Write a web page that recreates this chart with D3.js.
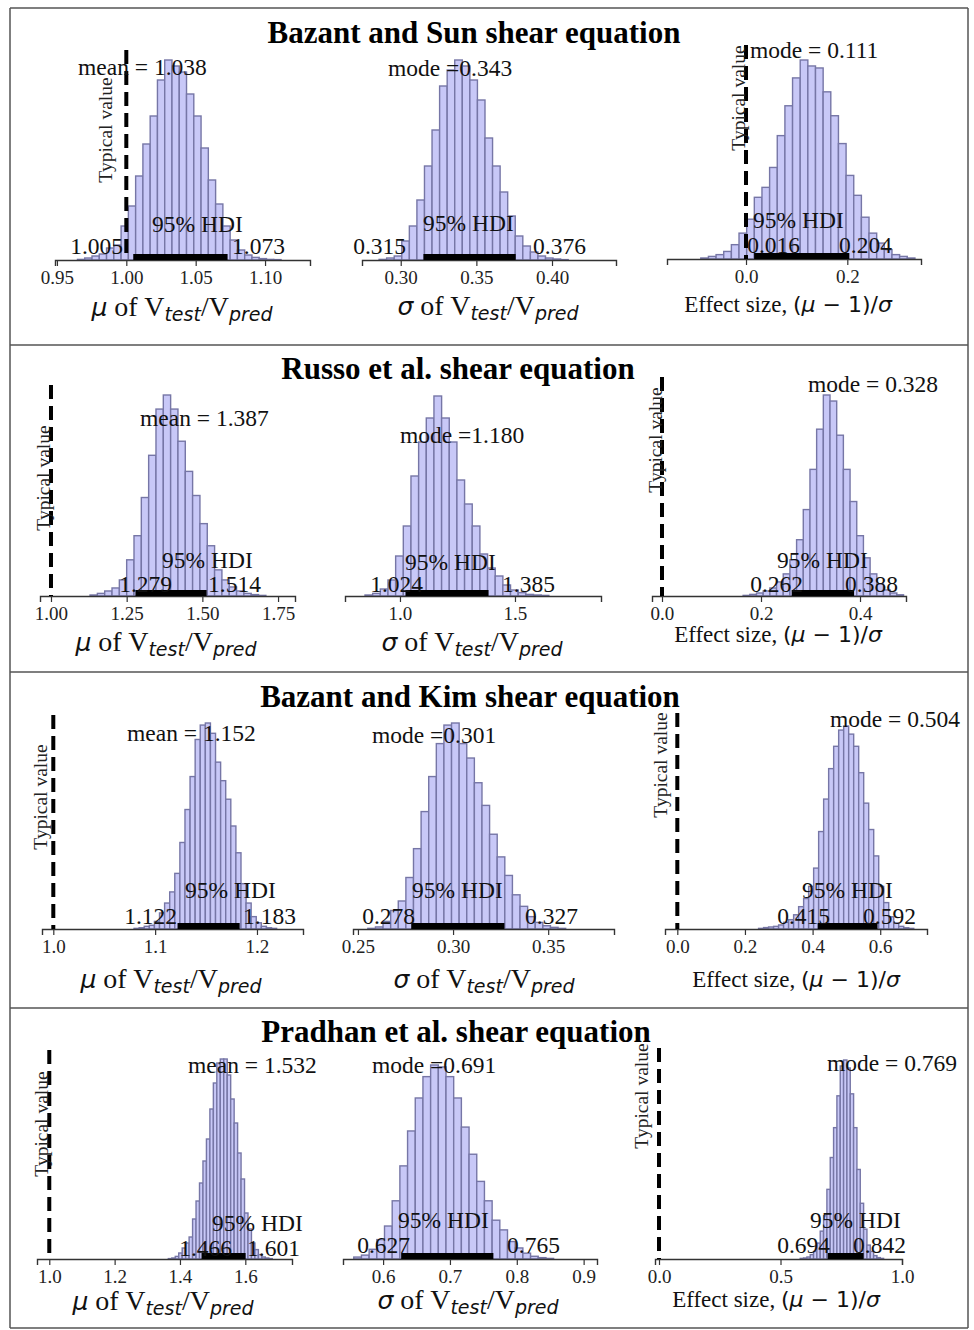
<!DOCTYPE html>
<html>
<head>
<meta charset="utf-8">
<script src="https://cdn.jsdelivr.net/npm/d3@7"></script>
<style>
  body { margin: 0; background: #fff; }
  .serif { font-family: "Liberation Serif", "Times New Roman", serif; }
  .math { font-family: "DejaVu Sans", sans-serif; }
  .it { font-style: italic; }
</style>
</head>
<body>
<div id="graph"></div>
<script>
// ---- data ----
const titles = ['Bazant and Sun shear equation', 'Russo et al. shear equation',
                'Bazant and Kim shear equation', 'Pradhan et al. shear equation'];

// one entry per histogram, row by row: mu, sigma, effect size
const kinds = ['mu', 'sigma', 'effect', 'mu', 'sigma', 'effect', 'mu', 'sigma', 'effect', 'mu', 'sigma', 'effect'];
const statLabels = ['mean = 1.038', 'mode =0.343', 'mode = 0.111',
                    'mean = 1.387', 'mode =1.180', 'mode = 0.328',
                    'mean = 1.152', 'mode =0.301', 'mode = 0.504',
                    'mean = 1.532', 'mode =0.691', 'mode = 0.769'];
const hdiLow  = [1.005, 0.315, 0.016, 1.279, 1.024, 0.262, 1.122, 0.278, 0.415, 1.466, 0.627, 0.694];
const hdiHigh = [1.073, 0.376, 0.204, 1.514, 1.385, 0.388, 1.183, 0.327, 0.592, 1.601, 0.765, 0.842];
const typicalValue = [1, null, 0, 1, null, 0, 1, null, 0, 1, null, 0];

const xExtent = [[0.9486, 1.1324], [0.2744, 0.4423], [-0.156, 0.3455],
                 [0.9637, 1.806], [0.761, 1.874], [-0.0202, 0.4929],
                 [0.9889, 1.2452], [0.2474, 0.3846], [-0.0364, 0.7383],
                 [0.9624, 1.7429], [0.54, 0.92], [-0.0165, 1.0]];
const tickValues = [[0.95, 1.00, 1.05, 1.10], [0.30, 0.35, 0.40], [0.0, 0.2],
                    [1.00, 1.25, 1.50, 1.75], [1.0, 1.5], [0.0, 0.2, 0.4],
                    [1.0, 1.1, 1.2], [0.25, 0.30, 0.35], [0.0, 0.2, 0.4, 0.6],
                    [1.0, 1.2, 1.4, 1.6], [0.6, 0.7, 0.8, 0.9], [0.0, 0.5, 1.0]];
const tickLabels = [['0.95', '1.00', '1.05', '1.10'], ['0.30', '0.35', '0.40'], ['0.0', '0.2'],
                    ['1.00', '1.25', '1.50', '1.75'], ['1.0', '1.5'], ['0.0', '0.2', '0.4'],
                    ['1.0', '1.1', '1.2'], ['0.25', '0.30', '0.35'], ['0.0', '0.2', '0.4', '0.6'],
                    ['1.0', '1.2', '1.4', '1.6'], ['0.6', '0.7', '0.8', '0.9'], ['0.0', '0.5', '1.0']];

// histogram bins: first left edge, bin width, relative heights (tallest = 100)
const binStart = [0.9648, 0.2857, -0.0893, 1.129, 0.848, 0.1639, 1.0793, 0.2552, 0.2403, 1.3644, 0.5561, 0.5811];
const binWidth = [0.00524, 0.005, 0.0151, 0.0242, 0.0333, 0.0135, 0.005, 0.004, 0.0148, 0.0106, 0.0115, 0.01373];
const counts = [
  [0.3, 1, 2, 3, 6, 7.5, 17, 27, 42, 58, 72, 90, 100, 97, 94, 83, 72, 56, 40, 28, 17, 10, 5, 2.5, 1.3, 0.7, 0.3, 0.2],
  [0.3, 1, 2, 9.5, 17, 30, 47, 65, 87, 95, 100, 97, 90, 80, 61, 47, 34, 22, 12, 7, 4, 2, 1, 0.5, 0.2],
  [0.5, 1.3, 2.2, 3.8, 7.2, 13, 20, 31, 36, 46, 62, 77, 91, 100, 97, 96, 84, 72, 58, 42, 32, 21, 13, 8, 4.7, 2.2, 1.3, 0.5],
  [0.5, 1.3, 2.5, 4, 8, 18, 30, 49, 70, 93, 100, 93, 77, 62, 50, 36, 25, 13, 8, 4.5, 2.5, 1.3, 0.7, 0.3],
  [0.5, 1.3, 3.5, 8, 20, 35, 60, 77, 89, 100, 89, 77, 58, 46, 35, 21, 14, 10, 5.5, 3, 1.7, 0.8, 0.5, 0.3],
  [0.3, 0.8, 1.5, 2.5, 4, 7, 11, 18, 28, 43, 63, 83, 100, 97, 80, 63, 47, 30, 19, 11, 6, 3, 1.5, 0.6],
  [0.3, 0.6, 1.3, 1.8, 3.7, 7.8, 12.6, 18, 27, 42, 58, 74, 92, 99, 100, 95, 81, 72, 63, 50, 37, 22, 12.6, 6, 3, 1.3, 0.6, 0.3],
  [0.3, 1, 3.7, 9, 13.6, 25, 39, 57, 74, 90, 99, 100, 90, 83, 71, 60, 46, 35, 26, 16.6, 11, 6, 3.2, 1.6, 0.8, 0.3],
  [0.3, 0.7, 1, 1.3, 2, 3.3, 4.6, 7, 11, 15, 21, 30, 48, 64, 79, 90, 98, 100, 96, 90, 77, 62, 49, 36, 21, 13, 6, 3, 1.3, 0.6, 0.3],
  [0.2, 0.5, 1.3, 3, 5.5, 8, 11, 20, 29, 38, 49, 60, 75, 88, 98, 100, 100, 92, 80, 68, 53, 40, 23, 15, 8, 4.7, 2.2, 1, 0.5, 0.2],
  [1, 2, 5, 10, 17, 30, 48, 66, 83, 94, 100, 99, 94, 83, 68, 54, 40, 30, 20, 15, 9, 5.7, 3, 1.4, 0.7, 0.3],
  [0.3, 0.5, 1, 2.2, 3.8, 8, 14, 21.7, 35, 51, 66, 82, 97, 100, 96, 83, 66, 45, 28, 15, 7, 3.8, 1.7, 0.7, 0.3]
];

// ---- layout (pixels) ----
const W = 974, H = 1330;
const rowLines = [8, 345, 672, 1008, 1328];
const titleX = [474, 458, 470, 456];
const titleY = [43, 379, 707, 1042];
const axisRange = [[55, 310], [362, 616], [667, 921], [40, 295], [345, 601], [652, 906],
                   [42, 303], [353, 614], [665, 927], [37, 292], [343, 597], [655, 902]];
const baseY = [260, 260, 259, 596, 596, 596, 929, 929, 929, 1259, 1259, 1259];
const peakY = [60, 60, 60, 395, 396, 395, 723, 723, 726, 1059, 1065, 1060];
const typTop = [50, null, 45, 385, null, 377, 715, null, 713, 1050, null, 1048];
const typText = [[112, 130], null, [745, 98], [50, 478], null, [662, 440],
                 [47, 797], null, [667, 765], [48, 1124], null, [648, 1096]];
const statPos = [[78, 75], [388, 76], [750, 58], [140, 426], [400, 443], [808, 392],
                 [127, 741], [372, 743], [830, 727], [188, 1073], [372, 1073], [827, 1071]];
const hdiPos = [[152, 232], [423, 231], [753, 228], [162, 568], [405, 570], [777, 568],
                [185, 898], [412, 898], [802, 898], [212, 1231], [398, 1228], [810, 1228]];
const loPos = [[123, 254], [406, 254], [800, 253], [172, 592], [423, 592], [803, 592],
               [177, 924], [415, 924], [830, 924], [232, 1256], [410, 1253], [830, 1253]];
const hiPos = [[232, 254], [533, 254], [839, 253], [208, 592], [502, 592], [845, 592],
               [243, 924], [525, 924], [863, 924], [247, 1256], [507, 1253], [853, 1253]];
const xLabelX = [182, 488, 788, 166, 472, 778, 171, 484, 796, 163, 468, 776];
const xLabelY = [316, 315, 312, 651, 651, 642, 988, 988, 987, 1310, 1309, 1307];

const svg = d3.select('#graph').append('svg')
  .attr('width', W).attr('height', H);

// panel frames
const frame = svg.append('g').attr('stroke', '#555').attr('stroke-width', 1.5);
rowLines.forEach(y => frame.append('line').attr('x1', 10).attr('x2', 968).attr('y1', y).attr('y2', y));
[10, 968].forEach(x => frame.append('line').attr('x1', x).attr('x2', x).attr('y1', 8).attr('y2', 1328));

// titles
titles.forEach((t, r) => {
  svg.append('text').attr('class', 'serif')
    .attr('x', titleX[r]).attr('y', titleY[r])
    .attr('text-anchor', 'middle')
    .attr('font-size', 31).attr('font-weight', 'bold')
    .text(t);
});

const fmt = d3.format('.3f');

function xLabel(i) {
  const t = svg.append('text')
    .attr('x', xLabelX[i]).attr('y', xLabelY[i])
    .attr('text-anchor', 'middle').attr('fill', '#111');
  if (kinds[i] === 'effect') {
    t.append('tspan').attr('class', 'serif').attr('font-size', 23).text('Effect size, ');
    t.append('tspan').attr('class', 'math').attr('font-size', 22).text('(');
    t.append('tspan').attr('class', 'math it').attr('font-size', 22).text('μ');
    t.append('tspan').attr('class', 'math').attr('font-size', 22).text(' − 1)/');
    t.append('tspan').attr('class', 'math it').attr('font-size', 22).text('σ');
  } else {
    t.append('tspan').attr('class', 'math it').attr('font-size', 25).text(kinds[i] === 'mu' ? 'μ' : 'σ');
    t.append('tspan').attr('class', 'serif').attr('font-size', 28).text(' of V');
    t.append('tspan').attr('class', 'math it').attr('font-size', 19).attr('dy', 5).text('test');
    t.append('tspan').attr('class', 'serif').attr('font-size', 28).attr('dy', -5).text('/V');
    t.append('tspan').attr('class', 'math it').attr('font-size', 19).attr('dy', 5).text('pred');
  }
}

counts.forEach((c, i) => {
  const x = d3.scaleLinear().domain(xExtent[i]).range(axisRange[i]);
  const y = d3.scaleLinear().domain([0, 100]).range([baseY[i], peakY[i]]);
  const bins = c.map((v, k) => ({ x0: binStart[i] + k * binWidth[i], x1: binStart[i] + (k + 1) * binWidth[i], v: v }));
  const g = svg.append('g');

  // bars
  g.selectAll('rect').data(bins).enter().append('rect')
    .attr('x', d => x(d.x0))
    .attr('width', d => x(d.x1) - x(d.x0))
    .attr('y', d => y(d.v))
    .attr('height', d => baseY[i] - y(d.v))
    .attr('fill', 'rgb(200,200,247)')
    .attr('stroke', 'rgb(118,118,166)')
    .attr('stroke-width', 1.4);

  // x axis
  const ax = g.append('g')
    .attr('transform', 'translate(0,' + baseY[i] + ')')
    .call(d3.axisBottom(x).tickValues(tickValues[i])
      .tickFormat((d, k) => tickLabels[i][k])
      .tickSizeOuter(0).tickSize(6).tickPadding(5));
  ax.select('.domain').attr('stroke', '#333').attr('stroke-width', 1.4);
  ax.selectAll('.tick line').attr('stroke', '#333').attr('stroke-width', 1.2);
  ax.selectAll('.tick text').attr('class', 'serif').attr('font-size', 19).attr('fill', '#222');

  // HDI bar
  g.append('rect')
    .attr('x', x(hdiLow[i])).attr('width', x(hdiHigh[i]) - x(hdiLow[i]))
    .attr('y', baseY[i] - 6).attr('height', 6)
    .attr('fill', '#000');

  // typical value reference
  if (typicalValue[i] !== null) {
    g.append('line')
      .attr('x1', x(typicalValue[i])).attr('x2', x(typicalValue[i]))
      .attr('y1', typTop[i]).attr('y2', baseY[i])
      .attr('stroke', '#000').attr('stroke-width', 4)
      .attr('stroke-dasharray', '14,7');
    g.append('text').attr('class', 'serif')
      .attr('transform', 'translate(' + typText[i][0] + ',' + typText[i][1] + ') rotate(-90)')
      .attr('text-anchor', 'middle').attr('font-size', 19.5).attr('fill', '#222')
      .text('Typical value');
  }

  // annotations
  const ann = g.append('g').attr('class', 'serif').attr('font-size', 23.5).attr('fill', '#111');
  ann.append('text').attr('x', statPos[i][0]).attr('y', statPos[i][1]).text(statLabels[i]);
  ann.append('text').attr('x', hdiPos[i][0]).attr('y', hdiPos[i][1]).text('95% HDI');
  ann.append('text').attr('x', loPos[i][0]).attr('y', loPos[i][1]).attr('text-anchor', 'end').text(fmt(hdiLow[i]));
  ann.append('text').attr('x', hiPos[i][0]).attr('y', hiPos[i][1]).text(fmt(hdiHigh[i]));

  xLabel(i);
});
</script>
</body>
</html>
